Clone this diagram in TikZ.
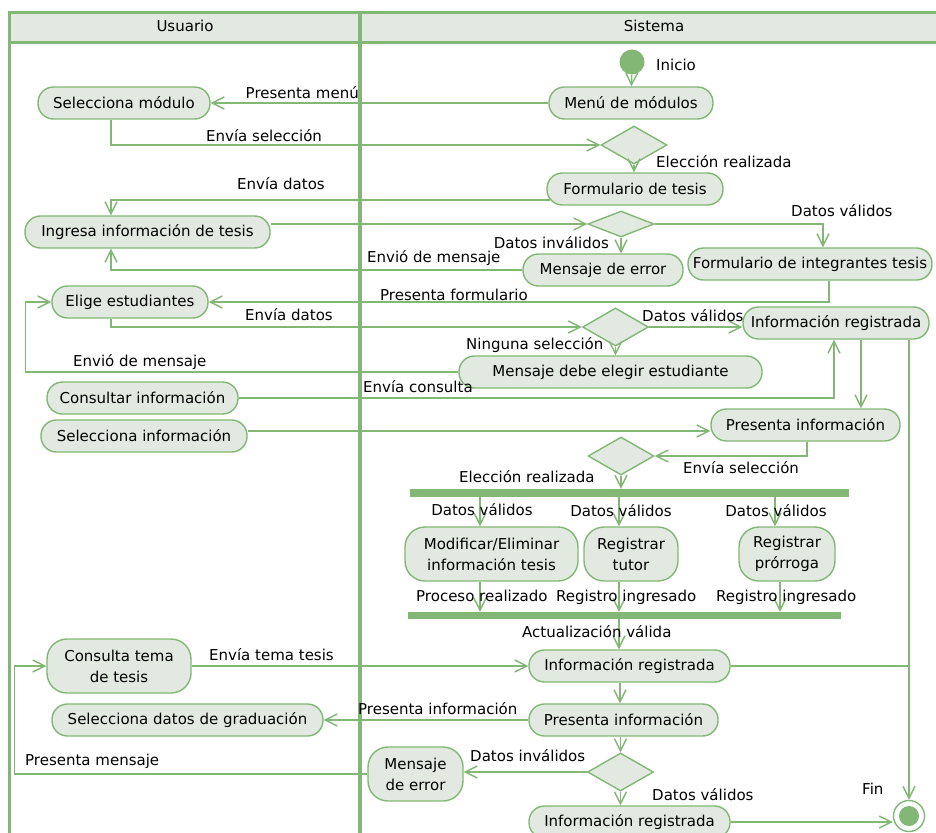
\documentclass[tikz,border=0pt]{standalone}
\usepackage{fontspec}
\setmainfont{DejaVu Sans}
\usetikzlibrary{arrows.meta,shapes.geometric}
\definecolor{linegreen}{RGB}{130,183,117}
\definecolor{fillgreen}{RGB}{225,233,225}
\def\actfont{\fontsize{15}{21}\selectfont}

\tikzset{
	act/.style={draw=linegreen, fill=fillgreen, line width=1.4pt, rounded corners=15.5pt, minimum height=32pt, inner sep=0pt, align=center, font=\actfont},
	acttwo/.style={act, rounded corners=20pt, minimum height=54pt},
	choice/.style={diamond, draw=linegreen, fill=fillgreen, line width=1.4pt, inner sep=0pt, minimum width=66pt, minimum height=38pt},
	forkbar/.style={fill=linegreen, inner sep=0pt, minimum height=8pt},
	lab/.style={inner sep=0pt, font=\actfont, text height=11pt, text depth=3pt},
	flow/.style={draw=linegreen, line width=1.4pt, -{Straight Barb[length=12pt,width=12pt]}},
	lane/.style={draw=linegreen, line width=3pt},
}

\begin{document}
\begin{tikzpicture}[x=1pt,y=-1pt]
				\clip (0,0) rectangle (936,832);
				
				\draw[lane, fill=fillgreen] (9,13) rectangle (945,43);
				\draw[lane] (9,43) -- (9,840);
				\draw[lane, line width=4.5pt] (360,13) -- (360,840);
				\node[lab] (hUsuario) at (185,28) {Usuario};
				\node[lab] (hSistema) at (654,28) {Sistema};
				
				\node[circle, fill=linegreen, minimum size=25pt, inner sep=0pt] (ini) at (632,62) {};
				\node[act, minimum width=164pt] (menu) at (631,103) {Menú de módulos};
				\node[act, minimum width=172pt] (selmod) at (124,103) {Selecciona módulo};
				\node[choice] (d1) at (634,145) {};
				\node[act, minimum width=176pt] (formt) at (635,189) {Formulario de tesis};
				\node[act, minimum width=245pt] (ingresa) at (147.5,232) {Ingresa información de tesis};
				\node[choice, minimum height=26pt] (d2) at (621,224) {};
				\node[act, minimum width=160pt] (err1) at (603,270) {Mensaje de error};
				\node[act, minimum width=244pt] (formi) at (810,264) {Formulario de integrantes tesis};
				\node[act, minimum width=156pt] (elige) at (130,302) {Elige estudiantes};
				\node[choice] (d3) at (615.5,327) {};
				\node[act, minimum width=186pt] (info1) at (836,323) {Información registrada};
				\node[act, minimum width=303pt] (msgest) at (610.5,372) {Mensaje debe elegir estudiante};
				\node[act, minimum width=191pt] (consul) at (142.5,398) {Consultar información};
				\node[act, minimum width=206pt] (selinf) at (144,436) {Selecciona información};
				\node[act, minimum width=189pt] (pres1) at (805.5,425) {Presenta información};
				\node[choice] (d4) at (621,456) {};
				\node[forkbar, minimum width=439pt] (fork) at (629.5,493) {};
				\node[acttwo, minimum width=173pt] (modif) at (491.5,554) {Modificar/Eliminar\\información tesis};
				\node[acttwo, minimum width=94pt] (regtut) at (631,554) {Registrar\\tutor};
				\node[acttwo, minimum width=96pt] (regpro) at (787,554) {Registrar\\prórroga};
				\node[forkbar, minimum width=433pt, minimum height=7pt] (join) at (624.5,615.5) {};
				\node[act, minimum width=201pt] (info2) at (629.5,666) {Información registrada};
				\node[acttwo, minimum width=144pt] (tema) at (119,666) {Consulta tema\\de tesis};
				\node[act, minimum width=189pt] (pres2) at (623.5,720) {Presenta información};
				\node[act, minimum width=271pt] (selgrad) at (187.5,720) {Selecciona datos de graduación};
				\node[choice] (d5) at (620.5,772) {};
				\node[acttwo, minimum width=95pt] (err2) at (415.5,774) {Mensaje\\de error};
				\node[act, minimum width=201pt] (info3) at (629.5,822) {Información registrada};
				\node[circle, draw=linegreen, fill=white, line width=1.4pt, minimum size=31pt, inner sep=0pt] (fin) at (909,816) {};
				\fill[linegreen] (fin) circle (10pt);
				
				\coordinate (ta) at ([xshift=-11.5pt]modif.north);
				\coordinate (tb) at ([xshift=-12pt]regtut.north);
				\coordinate (tc) at ([xshift=-12pt]regpro.north);
				\coordinate (ba) at ([xshift=-11.5pt]modif.south);
				\coordinate (bb) at ([xshift=-12pt]regtut.south);
				\coordinate (bc) at ([xshift=-7pt]regpro.south);
				\coordinate (ua) at ([xshift=-10.5pt]info2.north);
				\coordinate (ub) at ([xshift=-9.5pt]info2.south);
				
				\draw[flow] (ini) -- (menu);
				\draw[flow] (menu.west) -- (menu.west -| selmod.east);
				\draw[flow] ([xshift=-13pt]selmod.south) |- (d1);
				\draw[flow] (d1.south) -- (d1.south |- formt.north);
				\draw[flow] ([xshift=4pt,yshift=-11pt]formt.west) -| ([xshift=-36.5pt]ingresa.north);
				\draw[flow] (ingresa.east |- d2.west) -- (d2.west);
				\draw[flow] (d2.south) -- (d2.south |- err1.north);
				\draw[flow] (d2.east) -| ([xshift=13pt]formi.north);
				\draw[flow] (err1.west) -| ([xshift=-36.5pt]ingresa.south);
				\draw[flow] ([xshift=19pt]formi.south) |- (elige.east);
				\draw[flow] ([xshift=-19pt]elige.south) |- (d3.west);
				\draw[flow] (d3.east) -- (d3.east -| info1.west);
				\draw[flow] (d3.south) -- (d3.south |- msgest.north);
				\draw[flow] (msgest.west) -| ([xshift=-26pt]elige.west) -- (elige.west);
				\draw[flow] (consul.east) -| ([xshift=-2pt]info1.south);
				\draw[flow] ([yshift=5pt]selinf.east) -- ([yshift=5pt]selinf.east -| pres1.west);
				\draw[flow] ([xshift=25pt]info1.south) -- ([xshift=25pt]info1.south |- pres1.north);
				\draw[flow] (fin.north |- info1.south) -- (fin.north);
				\draw[flow] ([xshift=1.5pt]pres1.south) |- (d4.east);
				\draw[flow] (d4.south) -- (d4.south |- fork.north);
				\draw[flow] (ta |- fork.south) -- (ta);
				\draw[flow] (tb |- fork.south) -- (tb);
				\draw[flow] (tc |- fork.south) -- (tc);
				\draw[flow] (ba) -- (ba |- join.north);
				\draw[flow] (bb) -- (bb |- join.north);
				\draw[flow] (bc) -- (bc |- join.north);
				\draw[flow] (ua |- join.south) -- (ua);
				\draw[flow] (tema.east) -- (tema.east -| info2.west);
				\draw[linegreen, line width=1.4pt] (info2.east) -- (info2.east -| fin.north);
				\draw[flow] (ub) -- (ub |- pres2.north);
				\draw[flow] (pres2.west) -- (selgrad.east);
				\draw[flow] (d5.north |- pres2.south) -- (d5.north);
				\draw[flow] (d5.west) -- (d5.west -| err2.east);
				\draw[flow] (err2.west) -| ([xshift=-32pt]tema.west) -- (tema.west);
				\draw[flow] (d5.south) -- (d5.south |- info3.north);
				\draw[flow] (info3.east) -- (info3.east -| fin.west);
				
				\node[lab, anchor=west] (lInicio) at (656,67) {Inicio};
				\node[lab, anchor=east] (lPresMenu) at (359,95) {Presenta menú};
				\node[lab, anchor=west] (lEnvSel) at (206,137) {Envía selección};
				\node[lab, anchor=west] (lElec) at (656,163) {Elección realizada};
				\node[lab, anchor=west] (lEnvDat) at (237,185) {Envía datos};
				\node[lab, anchor=west] (lValA) at (791,212) {Datos válidos};
				\node[lab, anchor=east] (lInvA) at (609,244) {Datos inválidos};
				\node[lab, anchor=west] (lMsgA) at (367,258) {Envió de mensaje};
				\node[lab, anchor=west] (lPresForm) at (380,296) {Presenta formulario};
				\node[lab, anchor=west] (lEnvDatB) at (245,316) {Envía datos};
				\node[lab, anchor=west] (lValB) at (642,317) {Datos válidos};
				\node[lab, anchor=west] (lNinguna) at (466,345) {Ninguna selección};
				\node[lab, anchor=west] (lMsgB) at (73,362) {Envió de mensaje};
				\node[lab, anchor=west] (lConsulta) at (363,388) {Envía consulta};
				\node[lab, anchor=west] (lEnvSelB) at (683,469) {Envía selección};
				\node[lab, anchor=west] (lElecB) at (459,478) {Elección realizada};
				\node[lab] (lValC) at (482,511) {Datos válidos};
				\node[lab] (lValD) at (621,512) {Datos válidos};
				\node[lab] (lValE) at (776,512) {Datos válidos};
				\node[lab, anchor=west] (lProceso) at (416,597) {Proceso realizado};
				\node[lab, anchor=west] (lRegA) at (556,597) {Registro ingresado};
				\node[lab, anchor=west] (lRegB) at (716,597) {Registro ingresado};
				\node[lab, anchor=west] (lActual) at (522,633) {Actualización válida};
				\node[lab, anchor=west] (lEnvTema) at (209,656) {Envía tema tesis};
				\node[lab, anchor=west] (lPresInfo) at (358,710) {Presenta información};
				\node[lab, anchor=west] (lInvB) at (470,757) {Datos inválidos};
				\node[lab, anchor=west] (lPresMsg) at (25,761) {Presenta mensaje};
				\node[lab, anchor=west] (lValF) at (652,796) {Datos válidos};
				\node[lab, anchor=west] (lFin) at (862,790) {Fin};
			\end{tikzpicture}
\end{document}
